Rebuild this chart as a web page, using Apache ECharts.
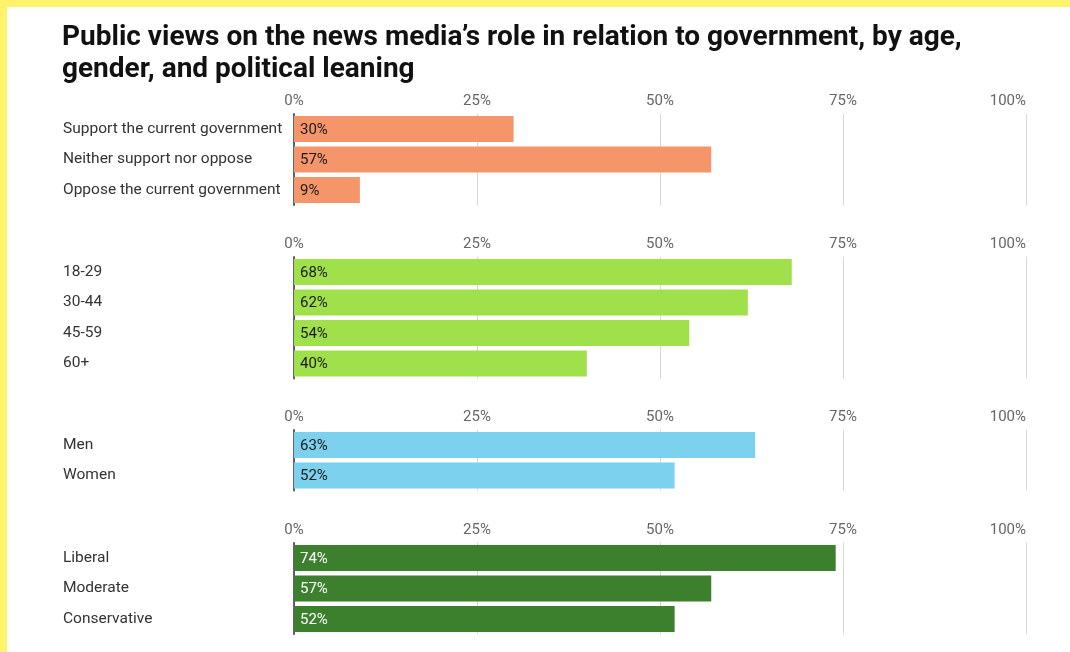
<!DOCTYPE html>
<html>
<head>
<meta charset="utf-8">
<title>Public views on the news media's role</title>
<script src="https://cdn.jsdelivr.net/npm/echarts@6/dist/echarts.min.js"></script>
<style>
  html, body { margin: 0; padding: 0; background: #ffffff; }
  #chart { width: 1070px; height: 652px; }
</style>
</head>
<body>
<div id="chart"></div>
<script>
// Survey groups and the share in each who hold the view
const govCategories = ['Support the current government', 'Neither support nor oppose', 'Oppose the current government'];
const govValues = [30, 57, 9];

const ageCategories = ['18-29', '30-44', '45-59', '60+'];
const ageValues = [68, 62, 54, 40];

const genderCategories = ['Men', 'Women'];
const genderValues = [63, 52];

const leaningCategories = ['Liberal', 'Moderate', 'Conservative'];
const leaningValues = [74, 57, 52];

// Percent axis ticks shared by every panel
const xTicks = [0, 25, 50, 75, 100];

const FONT = 'Roboto, "Noto Sans", Arial, sans-serif';
const ROW = 30.5;          // height of one category row
const PLOT_LEFT = 294;
const PLOT_WIDTH = 732;

const panels = [
  { cats: govCategories,     vals: govValues,     top: 113.75, color: '#f4956a', text: '#1a1a1a' },
  { cats: ageCategories,     vals: ageValues,     top: 256.7,  color: '#a0e04b', text: '#1a1a1a' },
  { cats: genderCategories,  vals: genderValues,  top: 429.7,  color: '#7bd1ee', text: '#1a1a1a' },
  { cats: leaningCategories, vals: leaningValues, top: 542.7,  color: '#3c7f2d', text: '#ffffff' }
];

const grids = [], xAxes = [], yAxes = [], series = [];

panels.forEach((p, i) => {
  grids.push({
    left: PLOT_LEFT,
    width: PLOT_WIDTH,
    top: p.top,
    height: ROW * p.cats.length
  });
  xAxes.push({
    type: 'value',
    gridIndex: i,
    position: 'top',
    min: xTicks[0],
    max: xTicks[xTicks.length - 1],
    interval: xTicks[1] - xTicks[0],
    axisLine: { show: false },
    axisTick: { show: false },
    axisLabel: {
      formatter: '{value}%',
      color: '#666666',
      fontFamily: FONT,
      fontSize: 15,
      margin: 5,
      alignMaxLabel: 'right'
    },
    splitLine: { show: true, lineStyle: { color: '#d8d8d8', width: 1 } }
  });
  yAxes.push({
    type: 'category',
    gridIndex: i,
    inverse: true,
    data: p.cats,
    axisLine: { show: true, lineStyle: { color: '#333333', width: 1.5 } },
    axisTick: { show: false },
    axisLabel: {
      align: 'left',
      margin: PLOT_LEFT - 63,
      color: '#333333',
      fontFamily: FONT,
      fontSize: 15.5,
      padding: [5, 0, 0, 0]
    }
  });
  series.push({
    type: 'bar',
    xAxisIndex: i,
    yAxisIndex: i,
    data: p.vals,
    barWidth: 26,
    itemStyle: { color: p.color },
    label: {
      show: true,
      position: 'insideLeft',
      distance: 6,
      offset: [0, 1],
      formatter: '{c}%',
      color: p.text,
      fontFamily: FONT,
      fontSize: 15
    },
    silent: true
  });
});

const chart = echarts.init(document.getElementById('chart'), null, { renderer: 'canvas' });
chart.setOption({
  backgroundColor: '#ffffff',
  animation: false,
  title: {
    text: 'Public views on the news media\u2019s role in relation to government, by age,\ngender, and political leaning',
    left: 57,
    top: 17,
    textStyle: {
      fontFamily: FONT,
      fontSize: 28,
      fontWeight: 'bold',
      color: '#111111',
      lineHeight: 32
    }
  },
  graphic: [
    { type: 'rect', shape: { x: 0, y: 0, width: 1070, height: 7 }, style: { fill: '#fff36c' }, silent: true },
    { type: 'rect', shape: { x: 0, y: 0, width: 7, height: 652 }, style: { fill: '#fff36c' }, silent: true }
  ],
  grid: grids,
  xAxis: xAxes,
  yAxis: yAxes,
  series: series
});
</script>
</body>
</html>
